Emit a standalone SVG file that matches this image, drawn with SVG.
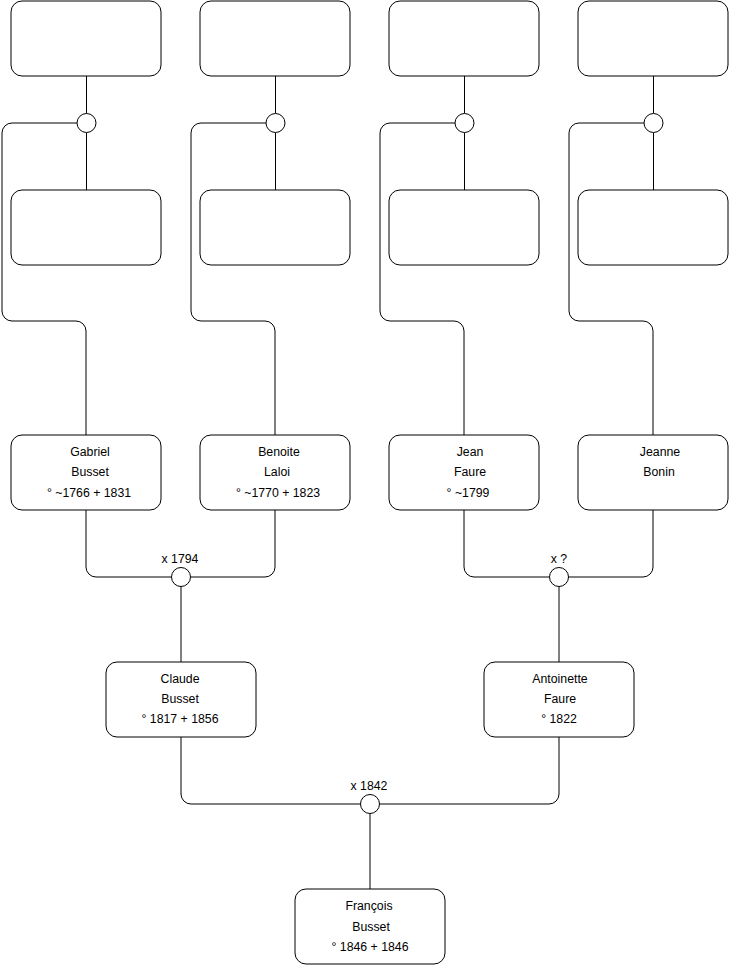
<svg xmlns="http://www.w3.org/2000/svg" width="740" height="975" viewBox="0 0 740 975">
<style>
.box{fill:#fff;stroke:#000;stroke-width:1}
.dot{fill:#fff;stroke:#000;stroke-width:1}
.ln{fill:none;stroke:#000;stroke-width:1}
text{font-family:"Liberation Sans",Arial,Helvetica,sans-serif;font-size:12.3px;fill:#000;text-anchor:middle}
</style>
<rect width="740" height="975" fill="#fff"/>
<g id="connectors">
<path class="ln" d="M86.5 76V113.5M86.5 132.5V190"/>
<path class="ln" d="M77 123H12A10 10 0 0 0 2 133V311A10 10 0 0 0 12 321H76A10 10 0 0 1 86 331V435"/>
<path class="ln" d="M275.5 76V113.5M275.5 132.5V190"/>
<path class="ln" d="M266 123H201A10 10 0 0 0 191 133V311A10 10 0 0 0 201 321H265A10 10 0 0 1 275 331V435"/>
<path class="ln" d="M464.5 76V113.5M464.5 132.5V190"/>
<path class="ln" d="M455 123H390A10 10 0 0 0 380 133V311A10 10 0 0 0 390 321H454A10 10 0 0 1 464 331V435"/>
<path class="ln" d="M653.5 76V113.5M653.5 132.5V190"/>
<path class="ln" d="M644 123H579A10 10 0 0 0 569 133V311A10 10 0 0 0 579 321H643A10 10 0 0 1 653 331V435"/>
<path class="ln" d="M86 510V567A10 10 0 0 0 96 577H171.5"/>
<path class="ln" d="M275 510V567A10 10 0 0 1 265 577H190.5"/>
<path class="ln" d="M181 586.5V662"/>
<path class="ln" d="M464 510V567A10 10 0 0 0 474 577H549.5"/>
<path class="ln" d="M653 510V567A10 10 0 0 1 643 577H568.5"/>
<path class="ln" d="M559 586.5V662"/>
<path class="ln" d="M181 737V794A10 10 0 0 0 191 804H360.5"/>
<path class="ln" d="M559 737V794A10 10 0 0 1 549 804H379.5"/>
<path class="ln" d="M370 813.5V889"/>
</g>
<g id="dots">
<circle id="m1" class="dot" cx="86.5" cy="123" r="9.5"/>
<circle id="m2" class="dot" cx="275.5" cy="123" r="9.5"/>
<circle id="m3" class="dot" cx="464.5" cy="123" r="9.5"/>
<circle id="m4" class="dot" cx="653.5" cy="123" r="9.5"/>
<g id="m5"><circle class="dot" cx="181" cy="577" r="9.5"/><text x="180" y="563">x 1794</text></g>
<g id="m6"><circle class="dot" cx="559" cy="577" r="9.5"/><text x="559" y="563">x ?</text></g>
<g id="m7"><circle class="dot" cx="370" cy="804" r="9.5"/><text x="369" y="790">x 1842</text></g>
</g>
<g id="n1"><rect class="box" x="11" y="1" width="150" height="75" rx="11"/></g>
<g id="n2"><rect class="box" x="200" y="1" width="150" height="75" rx="11"/></g>
<g id="n3"><rect class="box" x="389" y="1" width="150" height="75" rx="11"/></g>
<g id="n4"><rect class="box" x="578" y="1" width="150" height="75" rx="11"/></g>
<g id="n5"><rect class="box" x="11" y="190" width="150" height="75" rx="11"/></g>
<g id="n6"><rect class="box" x="200" y="190" width="150" height="75" rx="11"/></g>
<g id="n7"><rect class="box" x="389" y="190" width="150" height="75" rx="11"/></g>
<g id="n8"><rect class="box" x="578" y="190" width="150" height="75" rx="11"/></g>
<g id="gabriel"><rect class="box" x="11" y="435" width="150" height="75" rx="11"/>
<text x="90" y="455.5">Gabriel</text><text x="90" y="476">Busset</text><text x="89" y="496.5">° ~1766 + 1831</text></g>
<g id="benoite"><rect class="box" x="200" y="435" width="150" height="75" rx="11"/>
<text x="279" y="455.5">Benoite</text><text x="277" y="476">Laloi</text><text x="278" y="496.5">° ~1770 + 1823</text></g>
<g id="jean"><rect class="box" x="389" y="435" width="150" height="75" rx="11"/>
<text x="470" y="455.5">Jean</text><text x="470" y="476">Faure</text><text x="468" y="496.5">° ~1799</text></g>
<g id="jeanne"><rect class="box" x="578" y="435" width="150" height="75" rx="11"/>
<text x="660" y="455.5">Jeanne</text><text x="659" y="476">Bonin</text></g>
<g id="claude"><rect class="box" x="106" y="662" width="150" height="75" rx="11"/>
<text x="180" y="682.5">Claude</text><text x="180" y="702.5">Busset</text><text x="180" y="722.5">° 1817 + 1856</text></g>
<g id="antoinette"><rect class="box" x="484" y="662" width="150" height="75" rx="11"/>
<text x="560" y="682.5">Antoinette</text><text x="560" y="702.5">Faure</text><text x="559" y="722.5">° 1822</text></g>
<g id="francois"><rect class="box" x="295" y="889" width="150" height="75" rx="11"/>
<text x="369" y="910">François</text><text x="371" y="930.5">Busset</text><text x="370" y="951">° 1846 + 1846</text></g>
</svg>
